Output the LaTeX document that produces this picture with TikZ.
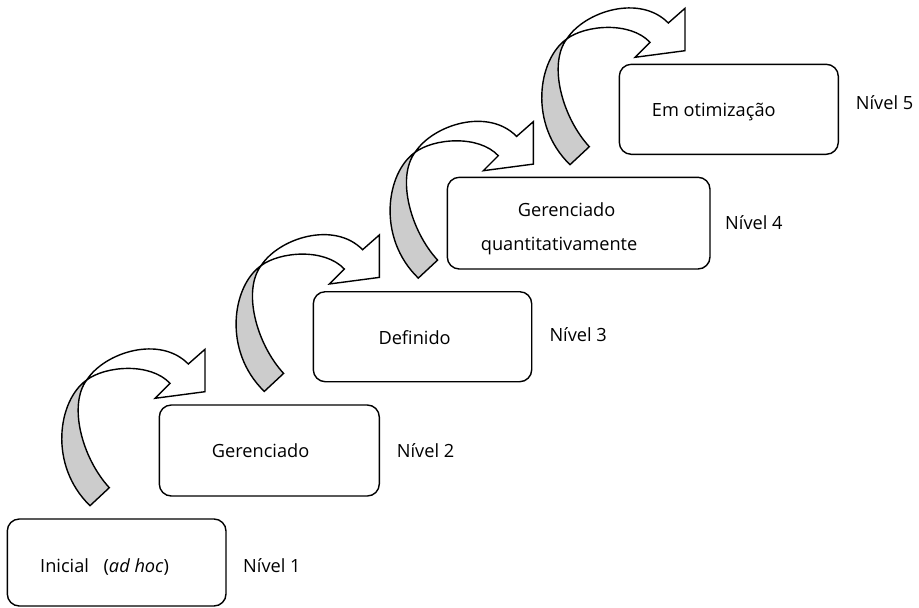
\documentclass[tikz,border=0pt]{standalone}
\usepackage{fontspec}
\setmainfont{Open Sans}
\definecolor{bandgray}{RGB}{204,204,204}
\begin{document}
\begin{tikzpicture}[x=1pt,y=-1pt,
  outline/.style={draw=black,line width=1.4pt},
  levelbox/.style={outline,fill=white,rounded corners=12pt},
  lbl/.style={anchor=base west,inner sep=0pt,font=\fontsize{18.2}{21}\selectfont},
  bentarrow/.pic={
    \draw[outline,fill=bandgray] (-118.3,30.7) .. controls (-147,50.7) and (-157,115.7) .. (-115,156.4)
      -- (-95.7,138.4) .. controls (-123,108.7) and (-137,55.7) .. (-118.3,30.7) -- cycle;
    \draw[outline,fill=white] (-118.3,30.7) .. controls (-100,2.7) and (-45,-14.3) .. (-16.7,14.7)
      -- (0,0) -- (0,42.4) -- (-50,49) -- (-35,34) .. controls (-55,12.7) and (-100,16.7) .. (-118.3,30.7) -- cycle;
  }]
\useasboundingbox (0,0) rectangle (919,608);
% boxes
\draw[levelbox] (7.3,519) rectangle (226,606);
\draw[levelbox] (159.3,405) rectangle (379.3,496);
\draw[levelbox] (313.3,291.7) rectangle (531.7,381.7);
\draw[levelbox] (447.3,177.3) rectangle (710,269);
\draw[levelbox] (619.3,64.3) rectangle (838.3,154.3);
% arrows
\pic at (205,349.3) {bentarrow};
\pic at (379.3,235) {bentarrow};
\pic at (533.3,121.7) {bentarrow};
\pic at (685,8.3) {bentarrow};
% texts
\node[lbl] (t1) at (40,572) {Inicial\hspace{0.8em}(\textit{ad hoc})};
\node[lbl] (n1) at (243,572) {Nível 1};
\node[lbl] (t2) at (211.7,457.5) {Gerenciado};
\node[lbl] (n2) at (396.7,457) {Nível 2};
\node[lbl] (t3) at (378.3,344) {Definido};
\node[lbl] (n3) at (549.3,341) {Nível 3};
\node[lbl] (t4a) at (517.7,216.7) {Gerenciado};
\node[lbl] (t4b) at (480.7,250.5) {quantitativamente};
\node[lbl] (n4) at (725,229.3) {Nível 4};
\node[lbl] (t5) at (651.7,116.7) {Em otimização};
\node[lbl] (n5) at (855.7,109) {Nível 5};
\end{tikzpicture}
\end{document}
